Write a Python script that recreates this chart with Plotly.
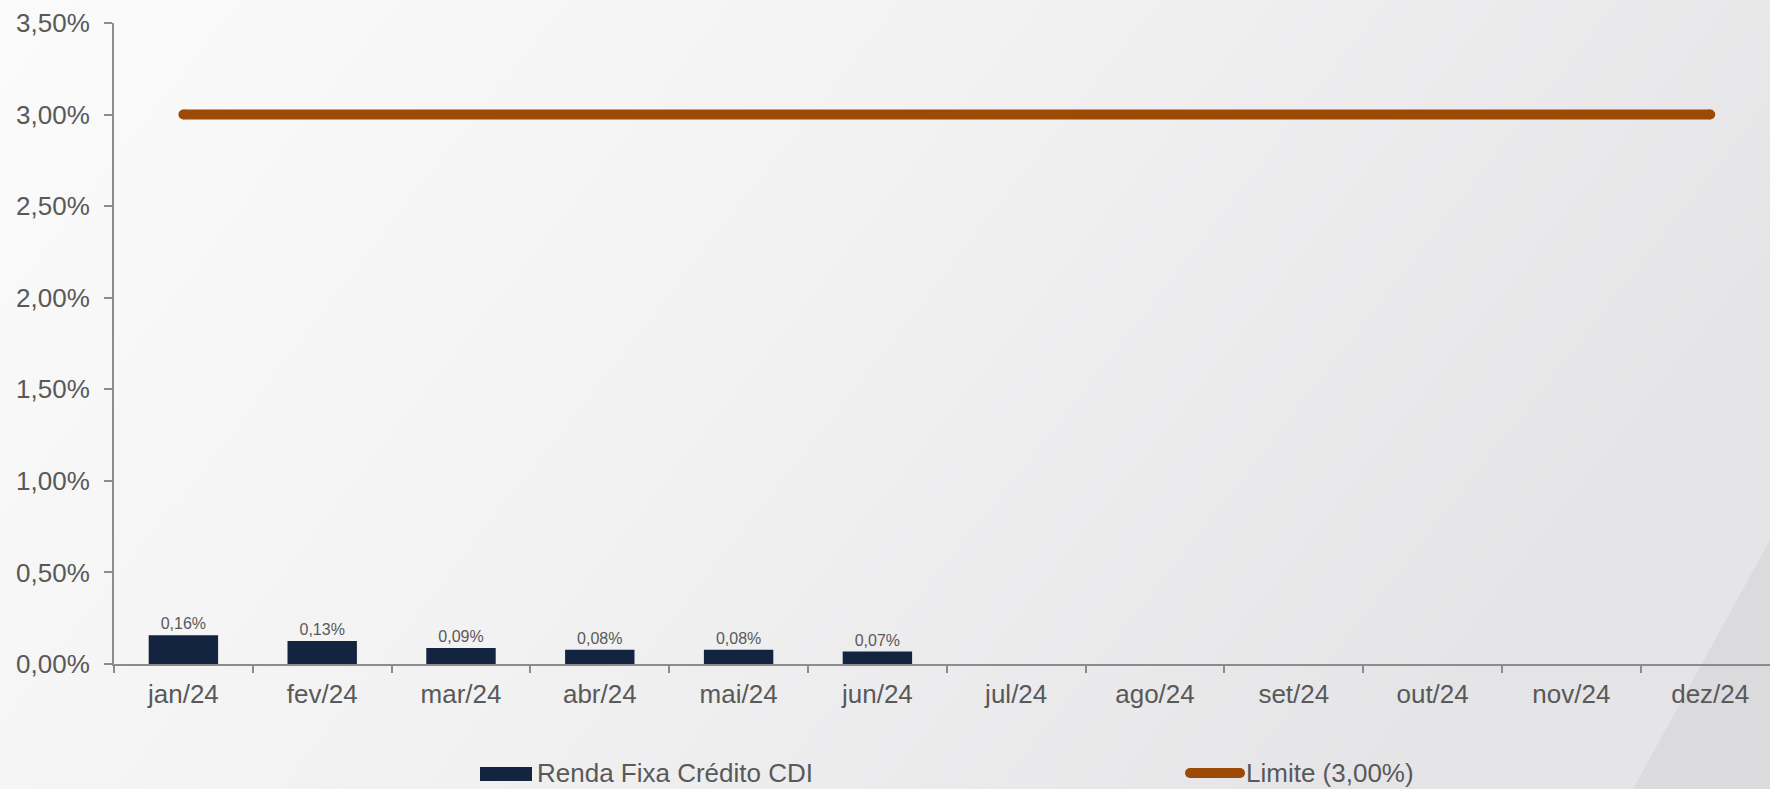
import base64
import plotly.graph_objects as go

# ---------------- data ----------------
months = ["jan/24", "fev/24", "mar/24", "abr/24", "mai/24", "jun/24",
          "jul/24", "ago/24", "set/24", "out/24", "nov/24", "dez/24"]
credito_cdi = [0.157, 0.126, 0.088, 0.078, 0.078, 0.068]   # % (Jan–Jun)
limite = [3.0] * 12                                          # %
y_ticks = [0, 0.5, 1.0, 1.5, 2.0, 2.5, 3.0, 3.5]
y_ticktext = ["0,00%", "0,50%", "1,00%", "1,50%", "2,00%", "2,50%", "3,00%", "3,50%"]

series_names = ["Renda Fixa Crédito CDI", "Limite (3,00%)"]

# ---------------- style ----------------
W, H = 1770, 789
L, R, T, B = 114, 0, 23, 125
PW, PH = W - L - R, H - T - B
BAR_COLOR = "#12243F"
LINE_COLOR = "#9C4A06"
TXT = "#595959"
AXIS = "#8C8C8C"
FONT = "Arial, Liberation Sans, sans-serif"

def px_x(px):
    return (px - L) / PW

def px_y(py):
    return (H - B - py) / PH

# background gradient as svg image
svg = f'''<svg xmlns="http://www.w3.org/2000/svg" width="{W}" height="{H}" viewBox="0 0 {W} {H}" preserveAspectRatio="none">
<defs>
<linearGradient id="g" x1="0" y1="0" x2="1" y2="0.35">
<stop offset="0" stop-color="#FBFBFB"/>
<stop offset="0.5" stop-color="#F2F2F3"/>
<stop offset="1" stop-color="#E5E5E7"/>
</linearGradient>
</defs>
<rect width="{W}" height="{H}" fill="url(#g)"/>
<polygon points="1770,540 1633,789 1770,789" fill="#DBDBDE"/>
</svg>'''
bg_uri = "data:image/svg+xml;base64," + base64.b64encode(svg.encode()).decode()

fig = go.Figure()

fig.add_trace(go.Bar(
    x=months[:len(credito_cdi)], y=credito_cdi, name=series_names[0],
    marker=dict(color=BAR_COLOR, line=dict(width=0)), width=0.5,
    texttemplate="%{y:.2f}%", textposition="outside",
    textfont=dict(family=FONT, size=16, color=TXT),
    cliponaxis=False, showlegend=False,
))

end_sizes = [10] + [0] * (len(limite) - 2) + [10]
fig.add_trace(go.Scatter(
    x=months, y=limite, name=series_names[1], mode="lines+markers",
    line=dict(color=LINE_COLOR, width=10),
    marker=dict(size=end_sizes, color=LINE_COLOR, line=dict(width=0), opacity=1),
    cliponaxis=False, showlegend=False,
))

# manual legend
shapes = [
    dict(type="rect", xref="paper", yref="paper",
         x0=px_x(480), x1=px_x(532), y0=px_y(781), y1=px_y(767),
         fillcolor=BAR_COLOR, line=dict(width=0)),
    dict(type="rect", xref="paper", yref="paper",
         x0=px_x(1190), x1=px_x(1240), y0=px_y(778), y1=px_y(768),
         fillcolor=LINE_COLOR, line=dict(width=0)),
    dict(type="circle", xref="paper", yref="paper",
         x0=px_x(1185), x1=px_x(1195), y0=px_y(778), y1=px_y(768),
         fillcolor=LINE_COLOR, line=dict(width=0)),
    dict(type="circle", xref="paper", yref="paper",
         x0=px_x(1235), x1=px_x(1245), y0=px_y(778), y1=px_y(768),
         fillcolor=LINE_COLOR, line=dict(width=0)),
]
annotations = [
    dict(text=series_names[0], xref="paper", yref="paper",
         x=px_x(535), y=px_y(773), xanchor="left", yanchor="middle",
         showarrow=False, font=dict(family=FONT, size=26, color=TXT)),
    dict(text=series_names[1], xref="paper", yref="paper",
         x=px_x(1244), y=px_y(773), xanchor="left", yanchor="middle",
         showarrow=False, font=dict(family=FONT, size=26, color=TXT)),
]

fig.update_layout(
    width=W, height=H,
    margin=dict(l=L, r=R, t=T, b=B, pad=0),
    paper_bgcolor="rgba(0,0,0,0)", plot_bgcolor="rgba(0,0,0,0)",
    separators=",.",
    font=dict(family=FONT, color=TXT),
    showlegend=False,
    shapes=shapes, annotations=annotations,
    images=[dict(source=bg_uri, xref="paper", yref="paper",
                 x=-L / PW, y=1 + T / PH, sizex=W / PW, sizey=H / PH,
                 xanchor="left", yanchor="top", sizing="stretch",
                 layer="below")],
    xaxis=dict(
        type="category", categoryorder="array", categoryarray=months,
        range=[-0.5, -0.5 + PW / 138.8],
        showline=True, linecolor=AXIS, linewidth=2,
        ticks="outside", ticklen=7, tickwidth=2, tickcolor=AXIS,
        tickson="boundaries", showgrid=False, zeroline=False,
        tickfont=dict(family=FONT, size=26, color=TXT),
        ticklabelstandoff=6,
    ),
    yaxis=dict(
        range=[0, 3.5], tickmode="array", tickvals=y_ticks, ticktext=y_ticktext,
        showline=True, linecolor=AXIS, linewidth=2,
        ticks="outside", ticklen=8, tickwidth=2, tickcolor=AXIS,
        showgrid=False, zeroline=False,
        tickfont=dict(family=FONT, size=26, color=TXT),
        ticklabelstandoff=9,
    ),
)

fig.write_html("out.html")
